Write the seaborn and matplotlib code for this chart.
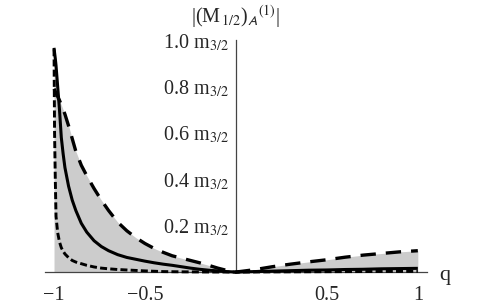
import numpy as np
import pandas as pd
import matplotlib
matplotlib.use("Agg")
import matplotlib.pyplot as plt
import seaborn as sns

# values
q = [-1.0, -0.997, -0.993, -0.989, -0.98, -0.97, -0.96, -0.95, -0.94, -0.92,
     -0.90, -0.88, -0.85, -0.82, -0.78, -0.74, -0.70, -0.65, -0.60, -0.55,
     -0.50, -0.45, -0.40, -0.35, -0.30, -0.25, -0.20, -0.15, -0.10, -0.05,
     0.0, 0.1, 0.2, 0.3, 0.4, 0.5, 0.6, 0.7, 0.8, 0.9, 1.0]

solid = [0.966, 0.945, 0.92, 0.89, 0.80, 0.70, 0.58, 0.51, 0.45, 0.37,
         0.31, 0.265, 0.21, 0.172, 0.135, 0.110, 0.092, 0.075, 0.063, 0.055,
         0.047, 0.040, 0.034, 0.029, 0.023, 0.017, 0.012, 0.008, 0.005, 0.002,
         0.0, 0.002, 0.004, 0.006, 0.008, 0.009, 0.011, 0.012, 0.014, 0.015, 0.016]

long_dash = [0.79, 0.785, 0.778, 0.772, 0.756, 0.74, 0.72, 0.70, 0.68, 0.63,
             0.575, 0.52, 0.46, 0.415, 0.36, 0.31, 0.265, 0.215, 0.178, 0.148,
             0.123, 0.102, 0.085, 0.070, 0.060, 0.050, 0.040, 0.029, 0.017, 0.007,
             0.0, 0.010, 0.023, 0.034, 0.044, 0.053, 0.064, 0.073, 0.080, 0.087, 0.092]

short_dash = [0.96, 0.60, 0.40, 0.24, 0.17, 0.13, 0.105, 0.09, 0.078, 0.062,
              0.050, 0.043, 0.036, 0.029, 0.022, 0.017, 0.014, 0.011, 0.009, 0.007,
              0.005, 0.0035, 0.002, 0.0015, 0.001, 0.0007, 0.0005, 0.0003, 0.0002, 0.0001,
              0.0, 0.0004, 0.0008, 0.001, 0.0013, 0.0016, 0.0019, 0.0022, 0.0025, 0.0028, 0.003]

x_ticks = [-1, -0.5, 0.5, 1]
x_labels = ["\u22121", "\u22120.5", "0.5", "1"]
y_ticks = [0.2, 0.4, 0.6, 0.8, 1.0]
y_labels = [f"{v:.1f} m$_{{3/2}}$" for v in y_ticks]

sns.set_style("white")
plt.rcParams["font.family"] = ["Liberation Serif", "DejaVu Serif"]
plt.rcParams["mathtext.fontset"] = "stix"

df = pd.DataFrame({
    "q": q * 3,
    "M": solid + long_dash + short_dash,
    "curve": ["solid"] * len(q) + ["long"] * len(q) + ["short"] * len(q),
})

fig = plt.figure(figsize=(4.91, 3.05), dpi=100)
ax = fig.add_axes([0.0915, 0.108, 0.778, 0.761])

# grey band under the upper envelope
upper = np.maximum(solid, long_dash)
ax.fill_between(q, 0, upper, color="#cccccc", linewidth=0, zorder=1)

sns.lineplot(data=df, x="q", y="M", style="curve", color="black",
             dashes={"solid": "", "long": (4.6, 3.0), "short": (2.4, 1.1)},
             size="curve", sizes={"solid": 2.2, "long": 2.4, "short": 2.1},
             legend=False, ax=ax, zorder=3)
for line in ax.lines:
    line.set_clip_on(False)
    line.set_solid_capstyle("butt")
    line.set_dash_capstyle("butt")

ax.set_xlim(-1.05, 1.05)
ax.set_ylim(0, 1.0)

for side in ["top", "right"]:
    ax.spines[side].set_visible(False)
ax.spines["left"].set_position(("data", 0))
ax.spines["bottom"].set_position(("data", 0))
for side in ["left", "bottom"]:
    ax.spines[side].set_color("#444444")
    ax.spines[side].set_linewidth(0.9)
    ax.spines[side].set_zorder(2)

ax.set_xticks(x_ticks)
ax.set_xticklabels(x_labels)
ax.set_yticks(y_ticks)
ax.set_yticklabels(y_labels)
ax.tick_params(axis="both", direction="in", length=3, width=0.8,
               color="#444444", labelsize=14.5)
ax.tick_params(axis="x", pad=10)
ax.tick_params(axis="y", pad=5)
ax.set_xlabel("")
ax.set_ylabel("")

ax.annotate(r"|(M$_{\,1/2}$)$_{\mathsf{A}}{}^{(1)}$|", xy=(0, 1.0), xytext=(0, 17),
            textcoords="offset points", ha="center", va="center",
            fontsize=14.5, annotation_clip=False)
ax.text(1.15, -0.035, "q", ha="center", va="baseline", fontsize=16, clip_on=False)

fig.savefig("out.png", dpi=100)
